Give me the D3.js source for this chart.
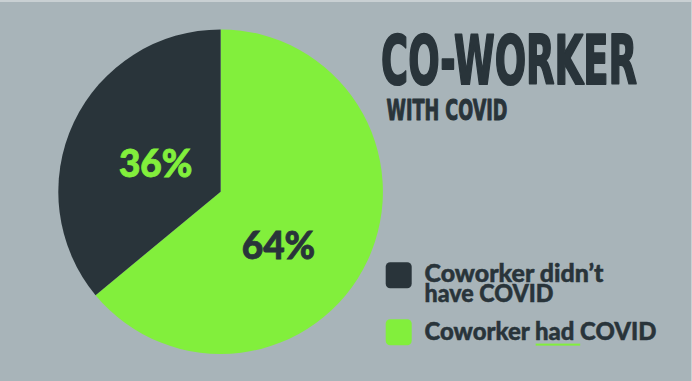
<!DOCTYPE html>
<html>
<head>
<meta charset="utf-8">
<script src="https://cdn.jsdelivr.net/npm/d3@7"></script>
<style>
  html, body { margin: 0; padding: 0; background: #a8b4b9; }
  svg { display: block; }
</style>
</head>
<body>
<script>
// Share of respondents whose co-worker had COVID
const categories = ["Coworker had COVID", "Coworker didn\u2019t have COVID"];
const values = [64, 36];
const valueLabels = ["64%", "36%"];
const colors = ["#82ef3c", "#29343a"];

const W = 692, H = 381;
const bg = "#a8b4b9", dark = "#29343a", green = "#82ef3c";

const svg = d3.select("body").append("svg")
  .attr("width", W).attr("height", H);

svg.append("rect").attr("width", W).attr("height", H).attr("fill", bg);
// light edge along the top and right of the card
svg.append("rect").attr("x", 0).attr("y", 0).attr("width", W).attr("height", 2).attr("fill", "#c9d0d3");
svg.append("rect").attr("x", W - 1).attr("y", 0).attr("width", 1).attr("height", H).attr("fill", "#c9d0d3");

// ---- pie ----
const cx = 220.6, cy = 191.7, R = 162.3;
const pie = d3.pie().sort(null).value(d => d.value);
const arcs = pie(categories.map((c, i) => ({ cat: c, value: values[i], label: valueLabels[i], color: colors[i] })));
const arc = d3.arc().innerRadius(0).outerRadius(R);

const g = svg.append("g").attr("transform", `translate(${cx},${cy})`);
g.selectAll("path.slice").data(arcs).join("path")
  .attr("class", "slice")
  .attr("d", arc)
  .attr("fill", d => d.data.color);

// value labels: angular offset from each slice's bisector and radial fraction
const labelPlace = [
  { da: 0.314, r: 0.489 },  // 64%
  { da: -0.037, r: 0.435 }  // 36%
];
g.selectAll("text.val").data(arcs).join("text")
  .attr("class", "val")
  .attr("transform", (d, i) => {
    const a = (d.startAngle + d.endAngle) / 2 + labelPlace[i].da;
    const rr = R * labelPlace[i].r;
    return `translate(${Math.sin(a) * rr},${-Math.cos(a) * rr})`;
  })
  .attr("text-anchor", "middle")
  .attr("dy", "0.36em")
  .attr("font-family", "Lato, 'Open Sans', sans-serif")
  .attr("font-weight", 900)
  .attr("font-size", 37)
  .attr("fill", (d, i) => i === 0 ? dark : green)
  .attr("stroke", (d, i) => i === 0 ? dark : green)
  .attr("stroke-width", 0.8)
  .text(d => d.data.label);

// ---- title: condensed heavy lettering, squeezed horizontally to width ----
function condensed(str, x, y, size, width, sw) {
  const grp = svg.append("g");
  const t = grp.append("text")
    .attr("x", 0).attr("y", 0)
    .attr("font-family", "'DejaVu Sans', sans-serif")
    .attr("font-weight", 700)
    .attr("font-size", size)
    .attr("fill", dark)
    .attr("stroke", dark)
    .attr("stroke-width", sw)
    .attr("stroke-linejoin", "round")
    .text(str);
  const natural = t.node().getComputedTextLength();
  grp.attr("transform", `translate(${x},${y}) scale(${width / natural},1)`);
}
condensed("CO-WORKER", 381, 84, 68, 256, 2.2);
condensed("WITH COVID", 386.5, 120, 28.5, 121, 1.1);

// ---- legend ----
const legendFont = "Lato, 'Open Sans', sans-serif";
const leg = svg.append("g");
const swatchY = [319.3, 262.3];

leg.selectAll("rect.sw").data(categories).join("rect")
  .attr("class", "sw")
  .attr("x", 385.7).attr("y", (d, i) => swatchY[i])
  .attr("width", 26).attr("height", 26)
  .attr("rx", 4.5)
  .attr("fill", (d, i) => colors[i]);

const legendText = (x, y, len, str) => leg.append("text")
  .attr("x", x).attr("y", y)
  .attr("font-family", legendFont).attr("font-weight", 900)
  .attr("font-size", 25.5).attr("fill", dark)
  .attr("stroke", dark).attr("stroke-width", 0.5)
  .attr("textLength", len).attr("lengthAdjust", "spacingAndGlyphs")
  .text(str);

legendText(424.5, 281.7, 179, "Coworker didn\u2019t");
legendText(424.5, 301.7, 129, "have COVID");
legendText(424.5, 340, 232, categories[0]);

// emphasis under "had"
leg.append("rect")
  .attr("x", 535.7).attr("y", 343.6)
  .attr("width", 44.5).attr("height", 2)
  .attr("fill", green);
</script>
</body>
</html>
